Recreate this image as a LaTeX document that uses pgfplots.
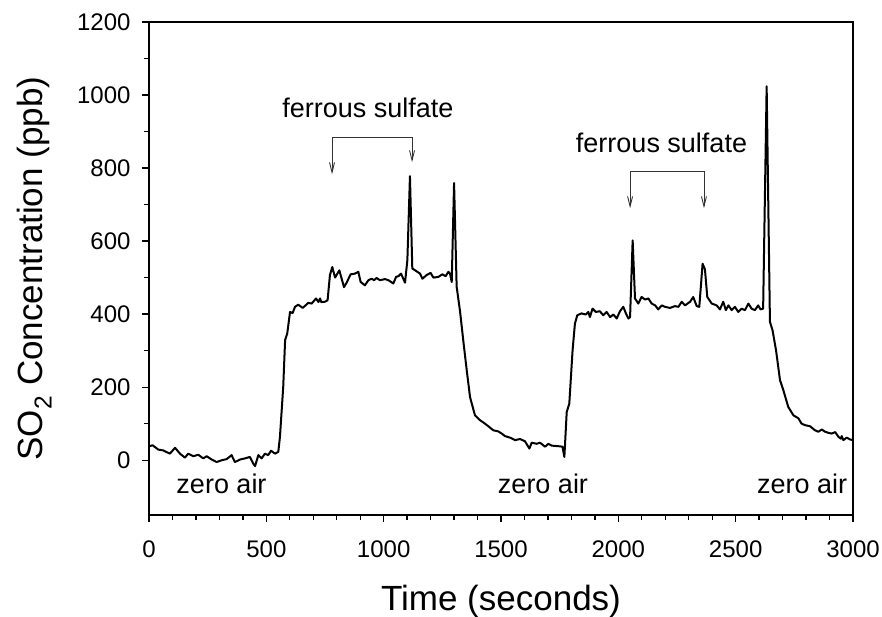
\documentclass[border=0pt]{standalone}
\usepackage{fontspec}
\setmainfont{Liberation Sans}
\usepackage{pgfplots}
\pgfplotsset{compat=1.18}
\usepackage{pgfplotstable}
\usetikzlibrary{arrows.meta}

\pgfplotstableread{
x y
0 38
15 41
40 29
60 27
89 18
111 34
132 18
153 7
167 18
189 11
210 15
231 5
246 11
267 2
288 -5
310 0
331 3
352 14
366 -5
388 2
409 5
430 9
444 -9
452 -16
466 14
480 5
494 18
508 14
520 26
537 18
551 23
558 64
572 201
580 329
589 347
601 406
612 403
622 420
636 426
655 417
679 431
693 429
712 443
722 433
729 443
734 433
750 434
761 438
771 507
781 529
793 500
811 520
831 474
842 486
859 509
878 511
892 516
902 488
920 479
935 493
949 497
959 493
970 499
984 493
1006 496
1020 493
1041 484
1053 502
1063 504
1074 511
1091 486
1101 548
1112 778
1122 525
1134 520
1155 511
1165 497
1183 507
1200 513
1212 500
1233 502
1250 509
1264 504
1276 516
1283 510
1290 488
1300 759
1311 475
1325 410
1339 329
1354 246
1368 173
1389 123
1410 110
1432 100
1446 93
1467 82
1488 79
1503 73
1517 66
1538 62
1560 55
1581 58
1602 52
1621 32
1631 48
1652 45
1666 48
1688 37
1702 45
1716 40
1751 38
1762 37
1770 9
1780 132
1791 155
1805 301
1815 374
1825 397
1843 402
1861 399
1872 406
1879 392
1890 415
1904 406
1921 408
1936 397
1950 406
1965 392
1979 399
1993 388
2007 408
2021 420
2033 401
2043 388
2050 392
2061 602
2071 443
2085 429
2099 447
2114 440
2128 443
2142 429
2157 424
2170 413
2185 424
2199 420
2220 417
2241 422
2256 420
2270 434
2284 424
2306 434
2319 447
2334 422
2345 420
2359 538
2369 523
2379 447
2398 429
2419 424
2433 413
2447 434
2458 411
2469 424
2483 411
2497 420
2511 406
2525 415
2540 411
2554 429
2568 415
2582 411
2596 424
2606 413
2617 415
2632 1024
2646 379
2657 356
2672 301
2689 219
2703 192
2724 146
2746 123
2767 115
2781 100
2796 96
2817 93
2838 82
2852 78
2867 84
2881 78
2895 75
2909 73
2924 77
2938 64
2948 59
2952 66
2959 55
2973 62
2987 57
3000 55
}\sotable

\begin{document}
\begin{tikzpicture}
\useasboundingbox (-149pt,-101pt) rectangle (733pt,515pt);
\begin{axis}[
  at={(0pt,0pt)}, anchor=south west,
  scale only axis, width=704pt, height=493pt,
  xmin=0, xmax=3000, ymin=-150, ymax=1200,
  xtick={0,500,...,3000}, ytick={0,200,...,1200},
  minor x tick num=4, minor y tick num=1,
  tick align=outside, xtick pos=bottom, ytick pos=left,
  major tick length=7pt, minor tick length=4.5pt,
  axis line style={line width=1.3pt},
  every tick/.style={line width=1.3pt, black},
  /pgf/number format/assume math mode=true,
  /pgf/number format/1000 sep={},
  tick label style={font=\fontsize{24}{29}\selectfont},
  xticklabel style={yshift=-15pt},
  yticklabel style={xshift=-8pt},
  clip=false,
]
\addplot[black, line width=2pt, line join=round] table[x=x,y=y] {\sotable};
\node[anchor=base, font=\fontsize{27}{32}\selectfont] at (axis cs:933,939) {ferrous sulfate};
\node[anchor=base, font=\fontsize{27}{32}\selectfont] at (axis cs:2184,843) {ferrous sulfate};
\draw[line width=0.9pt, black!80, {Straight Barb[length=10pt,width=5pt]}-{Straight Barb[length=10pt,width=5pt]}]
  (axis cs:780,783) -- (axis cs:780,884) -- (axis cs:1121,884) -- (axis cs:1121,816);
\draw[line width=0.9pt, black!80, {Straight Barb[length=10pt,width=5pt]}-{Straight Barb[length=10pt,width=5pt]}]
  (axis cs:2050,690) -- (axis cs:2050,791) -- (axis cs:2365,791) -- (axis cs:2365,690);
\node[anchor=base, font=\fontsize{27}{32}\selectfont] at (axis cs:309,-90) {zero air};
\node[anchor=base, font=\fontsize{27}{32}\selectfont] at (axis cs:1679,-90) {zero air};
\node[anchor=base, font=\fontsize{27}{32}\selectfont] at (axis cs:2783,-90) {zero air};
\end{axis}
\node[anchor=base, font=\fontsize{35}{42}\selectfont] at (352pt,-95pt) {Time (seconds)};
\node[anchor=base, rotate=90, font=\fontsize{35}{42}\selectfont] at (-106pt,246.5pt) {SO\textsubscript{2} Concentration (ppb)};
\end{tikzpicture}
\end{document}
